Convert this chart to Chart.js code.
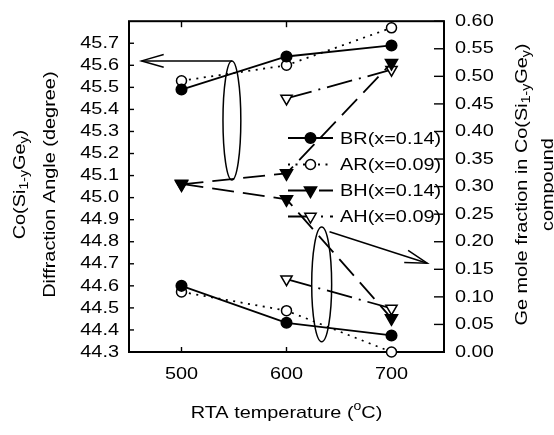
<!DOCTYPE html>
<html><head><meta charset="utf-8">
<script src="https://cdn.jsdelivr.net/npm/chart.js@4/dist/chart.umd.min.js"></script>
<style>html,body{margin:0;padding:0;background:#fff}#wrap{width:554px;height:435px}</style>
</head><body><div id="wrap"><canvas id="c" width="554" height="435"></canvas></div>
<script>
// ---------- data ----------
const temps = [500, 600, 700];
const tempsAH = [600, 700];
const xTicks = [500, 600, 700];
const angleTicks = [44.3, 44.4, 44.5, 44.6, 44.7, 44.8, 44.9, 45.0, 45.1, 45.2, 45.3, 45.4, 45.5, 45.6, 45.7];
const fracTicks = [0.00, 0.05, 0.10, 0.15, 0.20, 0.25, 0.30, 0.35, 0.40, 0.45, 0.50, 0.55, 0.60];
const seriesLabels = ['BR(x=0.14)', 'AR(x=0.09)', 'BH(x=0.14)', 'AH(x=0.09)'];
// diffraction angle (left axis)
const brAngle = [45.49, 45.64, 45.69];
const arAngle = [45.53, 45.60, 45.77];
const bhAngle = [45.06, 45.11, 45.61];
const ahAngle = [45.45, 45.58];
// Ge mole fraction (right axis)
const brFrac = [0.120, 0.053, 0.030];
const arFrac = [0.109, 0.075, 0.000];
const bhFrac = [0.305, 0.277, 0.061];
const ahFrac = [0.132, 0.079];

// ---------- text stretch (reference glyphs are horizontally wide) ----------
const FONT = '"Liberation Sans", Arial, Helvetica, sans-serif';
const FS = 17;
const SX = 1.17;
const canvas = document.getElementById('c');
const ctx0 = canvas.getContext('2d');
(function patch(ctx){
  const f = ctx.fillText.bind(ctx), m = ctx.measureText.bind(ctx);
  ctx.fillText = function(t, x, y, mw){
    ctx.save(); ctx.translate(x, y); ctx.scale(SX, 1);
    if (mw === undefined || mw === null) f(t, 0, 0); else f(t, 0, 0, mw / SX);
    ctx.restore();
  };
  ctx.measureText = function(t){
    const r = m(t);
    return { width: r.width * SX,
      actualBoundingBoxLeft: r.actualBoundingBoxLeft * SX, actualBoundingBoxRight: r.actualBoundingBoxRight * SX,
      actualBoundingBoxAscent: r.actualBoundingBoxAscent, actualBoundingBoxDescent: r.actualBoundingBoxDescent,
      fontBoundingBoxAscent: r.fontBoundingBoxAscent, fontBoundingBoxDescent: r.fontBoundingBoxDescent };
  };
})(ctx0);

// ---------- styles ----------
const styles = [
  { dash: [], point: 'circle', filled: true, radius: 5.3, rot: 0 },
  { dash: [2, 5.5], point: 'circle', filled: false, radius: 5, rot: 0 },
  { dash: [22, 9], point: 'triangle', filled: true, radius: 7, rot: 180 },
  { dash: [26, 7, 2, 7], point: 'triangle', filled: false, radius: 6.5, rot: 180 }
];
const LW = 1.8;
function mk(i, xs, ys, axis){
  const s = styles[i];
  return {
    label: seriesLabels[i],
    data: xs.map((x, k) => ({ x: x, y: ys[k] })),
    yAxisID: axis,
    borderColor: '#000', borderWidth: LW, borderDash: s.dash,
    backgroundColor: s.filled ? '#000' : '#fff',
    pointBackgroundColor: s.filled ? '#000' : '#fff',
    pointBorderColor: '#000', pointBorderWidth: 1.5,
    pointRadius: s.radius, pointHoverRadius: s.radius,
    pointStyle: s.point, pointRotation: s.rot,
    tension: 0, fill: false, clip: false
  };
}

// ---------- annotations (in data units) ----------
const notes = {
  leftEllipse: { cx: 548, cy: 45.35, rx: 8.5, ry: 0.27, axis: 'yL' },
  leftArrow: { x1: 548, y1: 45.62, x2: 462, y2: 45.62, axis: 'yL' },
  rightEllipse: { cx: 633.5, cy: 0.1227, rx: 9.5, ry: 0.104, axis: 'yR' },
  rightArrow: { x1: 641, y1: 0.218, x2: 734, y2: 0.161, axis: 'yR' }
};

function drawMarker(ctx, s, x, y){
  ctx.save(); ctx.setLineDash([]); ctx.lineWidth = 1.5;
  ctx.fillStyle = s.filled ? '#000' : '#fff'; ctx.strokeStyle = '#000';
  ctx.beginPath();
  if (s.point === 'circle') { ctx.arc(x, y, s.radius, 0, Math.PI * 2); }
  else {
    let rad = s.rot * Math.PI / 180;
    for (let k = 0; k < 3; k++) {
      const px = x + Math.sin(rad) * s.radius, py = y - Math.cos(rad) * s.radius;
      if (k) ctx.lineTo(px, py); else ctx.moveTo(px, py);
      rad += 2 * Math.PI / 3;
    }
    ctx.closePath();
  }
  ctx.fill(); ctx.stroke(); ctx.restore();
}

function drawRich(ctx, parts, cx, cy, rot){
  ctx.save();
  ctx.translate(cx, cy); ctx.rotate(rot);
  ctx.fillStyle = '#000'; ctx.textBaseline = 'middle'; ctx.textAlign = 'left';
  let total = 0;
  parts.forEach(p => { ctx.font = (p.s ? 12 : FS) + 'px ' + FONT; p.w = ctx.measureText(p.t).width; total += p.w; });
  let x = -total / 2;
  parts.forEach(p => {
    ctx.font = (p.s ? 12 : FS) + 'px ' + FONT;
    const dy = p.s === 'sub' ? 5 : (p.s === 'sup' ? -6 : 0);
    ctx.fillText(p.t, x, dy);
    x += p.w;
  });
  ctx.restore();
}

const framePlugin = {
  id: 'frame',
  beforeDatasetsDraw(chart){
    const { ctx, chartArea: a, scales } = chart;
    ctx.save(); ctx.strokeStyle = '#000'; ctx.lineWidth = 1.4; ctx.setLineDash([]);
    const ln = (x1, y1, x2, y2) => { ctx.beginPath(); ctx.moveTo(x1, y1); ctx.lineTo(x2, y2); ctx.stroke(); };
    scales.yL.ticks.forEach(t => { const y = scales.yL.getPixelForValue(t.value); ln(a.left, y, a.left + 5, y); });
    scales.yR.ticks.forEach(t => { const y = scales.yR.getPixelForValue(t.value); ln(a.right - 10, y, a.right, y); });
    scales.x.ticks.forEach(t => { const x = scales.x.getPixelForValue(t.value); ln(x, a.bottom, x, a.bottom - 5); ln(x, a.top, x, a.top + 6); });
    ctx.lineWidth = 2;
    ctx.strokeRect(a.left, a.top, a.right - a.left, a.bottom - a.top);
    ctx.restore();
  }
};

const notePlugin = {
  id: 'notes',
  afterDatasetsDraw(chart){
    const { ctx, scales } = chart;
    const X = v => scales.x.getPixelForValue(v);
    ctx.save(); ctx.strokeStyle = '#000'; ctx.lineWidth = 1.5; ctx.setLineDash([]);
    ['leftEllipse', 'rightEllipse'].forEach(k => {
      const e = notes[k], Y = scales[e.axis];
      const cx = X(e.cx), cy = Y.getPixelForValue(e.cy);
      const rx = Math.abs(X(e.cx + e.rx) - cx), ry = Math.abs(Y.getPixelForValue(e.cy + e.ry) - cy);
      ctx.beginPath(); ctx.ellipse(cx, cy, rx, ry, 0, 0, Math.PI * 2); ctx.stroke();
    });
    ['leftArrow', 'rightArrow'].forEach(k => {
      const r = notes[k], Y = scales[r.axis];
      const x1 = X(r.x1), y1 = Y.getPixelForValue(r.y1), x2 = X(r.x2), y2 = Y.getPixelForValue(r.y2);
      ctx.beginPath(); ctx.moveTo(x1, y1); ctx.lineTo(x2, y2); ctx.stroke();
      const ang = Math.atan2(y1 - y2, x1 - x2), L = 23, h = 0.28;
      ctx.beginPath();
      ctx.moveTo(x2 + L * Math.cos(ang + h), y2 + L * Math.sin(ang + h));
      ctx.lineTo(x2, y2);
      ctx.lineTo(x2 + L * Math.cos(ang - h), y2 + L * Math.sin(ang - h));
      ctx.stroke();
    });
    ctx.restore();

    // legend
    const lx = 288, lw = 45, tx = 340, ys = [138, 164.5, 190.5, 216.5];
    ctx.save();
    ctx.font = FS + 'px ' + FONT; ctx.fillStyle = '#000'; ctx.textBaseline = 'middle'; ctx.textAlign = 'left';
    seriesLabels.forEach((lab, i) => {
      const s = styles[i], y = ys[i];
      ctx.save(); ctx.lineWidth = LW; ctx.strokeStyle = '#000'; ctx.setLineDash(s.dash);
      ctx.beginPath(); ctx.moveTo(lx, y); ctx.lineTo(lx + lw, y); ctx.stroke(); ctx.restore();
      drawMarker(ctx, s, lx + lw / 2, y);
      ctx.fillText(lab, tx, y + 1);
    });
    ctx.restore();
  },
  afterDraw(chart){
    const { ctx, chartArea: a } = chart;
    const cy = (a.top + a.bottom) / 2 - 2;
    drawRich(ctx, [{ t: 'Co(Si' }, { t: '1-y', s: 'sub' }, { t: 'Ge' }, { t: 'y', s: 'sub' }, { t: ')' }], 20, cy, -Math.PI / 2);
    drawRich(ctx, [{ t: 'Diffraction Angle (degree)' }], 50, cy, -Math.PI / 2);
    drawRich(ctx, [{ t: 'Ge mole fraction in Co(Si' }, { t: '1-y', s: 'sub' }, { t: 'Ge' }, { t: 'y', s: 'sub' }, { t: ')' }], 522, cy, -Math.PI / 2);
    drawRich(ctx, [{ t: 'compound' }], 548, cy, -Math.PI / 2);
    drawRich(ctx, [{ t: 'RTA temperature (' }, { t: 'o', s: 'sup' }, { t: 'C)' }], (a.left + a.right) / 2, 413, 0);
  }
};

const tickFont = { family: FONT, size: FS };
new Chart(ctx0, {
  type: 'line',
  data: {
    datasets: [
      mk(0, temps, brAngle, 'yL'), mk(1, temps, arAngle, 'yL'), mk(2, temps, bhAngle, 'yL'), mk(3, tempsAH, ahAngle, 'yL'),
      mk(0, temps, brFrac, 'yR'), mk(1, temps, arFrac, 'yR'), mk(2, temps, bhFrac, 'yR'), mk(3, tempsAH, ahFrac, 'yR')
    ]
  },
  options: {
    responsive: false, animation: false, devicePixelRatio: 1,
    layout: { padding: { top: 16, left: 0, right: 0, bottom: 0 } },
    plugins: { legend: { display: false }, tooltip: { enabled: false } },
    events: [],
    scales: {
      x: {
        type: 'linear', position: 'bottom', min: 450, max: 750,
        afterBuildTicks: s => { s.ticks = xTicks.map(v => ({ value: v })); },
        afterFit: s => { s.height = 83; },
        grid: { display: false, drawTicks: false }, border: { display: false },
        ticks: { font: tickFont, color: '#000', padding: 12, autoSkip: false, maxRotation: 0, callback: v => String(v) }
      },
      yL: {
        type: 'linear', position: 'left', min: 44.3, max: 45.8,
        afterBuildTicks: s => { s.ticks = angleTicks.map(v => ({ value: v })); },
        afterFit: s => { s.width = 129; },
        grid: { display: false, drawTicks: false }, border: { display: false },
        ticks: { font: tickFont, color: '#000', padding: 10, autoSkip: false, callback: v => Number(v).toFixed(1) }
      },
      yR: {
        type: 'linear', position: 'right', min: 0, max: 0.6,
        afterBuildTicks: s => { s.ticks = fracTicks.map(v => ({ value: v })); },
        afterFit: s => { s.width = 110; },
        grid: { display: false, drawTicks: false }, border: { display: false },
        ticks: { font: tickFont, color: '#000', padding: 11, autoSkip: false, callback: v => Number(v).toFixed(2) }
      }
    }
  },
  plugins: [framePlugin, notePlugin]
});
</script>
</body></html>
